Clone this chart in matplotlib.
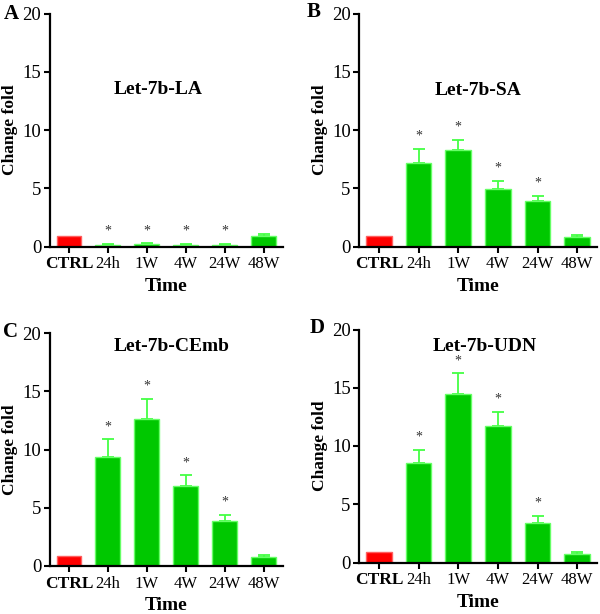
import matplotlib
matplotlib.use('Agg')
import matplotlib.pyplot as plt
import numpy as np

plt.rcParams['font.family'] = ['Liberation Serif', 'DejaVu Serif']

## data
groups = ['CTRL', '24h', '1W', '4W', '24W', '48W']
titles = ['Let-7b-LA', 'Let-7b-SA', 'Let-7b-CEmb', 'Let-7b-UDN']
letters = ['A', 'B', 'C', 'D']

la_mean = [0.9, 0.15, 0.18, 0.14, 0.14, 0.9]
la_err = [0, 0.08, 0.08, 0.09, 0.10, 0.15]
sa_mean = [0.9, 7.2, 8.26, 4.97, 3.92, 0.8]
sa_err = [0, 1.17, 0.86, 0.63, 0.45, 0.2]
cemb_mean = [0.9, 9.37, 12.6, 6.86, 3.86, 0.75]
cemb_err = [0, 1.49, 1.77, 0.91, 0.51, 0.2]
udn_mean = [0.9, 8.57, 14.46, 11.69, 3.4, 0.75]
udn_err = [0, 1.06, 1.77, 1.2, 0.57, 0.19]
signif = [False, True, True, True, True, False]

means = [la_mean, sa_mean, cemb_mean, udn_mean]
errs = [la_err, sa_err, cemb_err, udn_err]

fig = plt.figure(figsize=(6, 6.14), dpi=100)

H = 233 / 614
rects = [
    [49.5 / 600, 1 - 246.5 / 614, 233.5 / 600, H],
    [359 / 600, 1 - 246.5 / 614, 238 / 600, H],
    [49.5 / 600, 1 - 566 / 614, 233.5 / 600, H],
    [359 / 600, 1 - 562.5 / 614, 238 / 600, H],
]
title_pos = [(2.3, 13.5), (2.5, 13.4), (2.64, 18.8), (2.68, 18.5)]
letter_pos = [(11, 14), (314, 12), (11, 332), (317, 328)]
ylab_x = [-0.137, -0.130, -0.137, -0.130]

green = '#00C800'
light = '#66FF66'
red = '#FF0000'

for k in range(4):
    ax = fig.add_axes(rects[k])
    x = np.arange(len(groups))
    m = np.array(means[k])
    e = np.array(errs[k])
    colors = [red] + [green] * 5
    edges = ['#FF6060'] + [light] * 5
    ax.bar(x, m, width=0.64, color=colors, edgecolor=edges, linewidth=1, zorder=2)
    ax.errorbar(x[1:], m[1:], yerr=[np.zeros(5), e[1:]], fmt='none',
                ecolor='#44FF44', elinewidth=1.3, capsize=4, capthick=1.3, zorder=1)
    for i in range(len(groups)):
        if signif[i]:
            ax.text(x[i], m[i] + e[i] + 1.1, '*', ha='center', va='center',
                    fontsize=10, color='#333333')

    ax.set_xlim(-0.5, 5.5)
    ax.set_ylim(0, 20)
    ax.set_yticks([0, 5, 10, 15, 20])
    ax.set_xticks(x)
    ax.set_xticklabels(groups)
    ax.tick_params(axis='both', direction='out', length=4, width=1.5)
    ax.tick_params(axis='x', labelsize=12, pad=3)
    ax.tick_params(axis='y', labelsize=13.5, pad=2)
    ax.get_xticklabels()[0].set_fontweight('bold')
    ax.get_xticklabels()[0].set_fontsize(12.5)
    for s in ['top', 'right']:
        ax.spines[s].set_visible(False)
    for s in ['left', 'bottom']:
        ax.spines[s].set_linewidth(1.6)

    ax.set_ylabel('Change fold', fontsize=12.5, fontweight='bold')
    ax.yaxis.set_label_coords(ylab_x[k], 0.5)
    ax.text(0.5, -0.17, 'Time', transform=ax.transAxes, ha='center', va='center',
            fontsize=14, fontweight='bold')
    tx, ty = title_pos[k]
    ax.text(tx, ty, titles[k], ha='center', va='center', fontsize=14, fontweight='bold')
    lx, ly = letter_pos[k]
    fig.text(lx / 600, 1 - ly / 614, letters[k], ha='center', va='center',
             fontsize=15, fontweight='bold')

fig.savefig('out.png', dpi=100)
